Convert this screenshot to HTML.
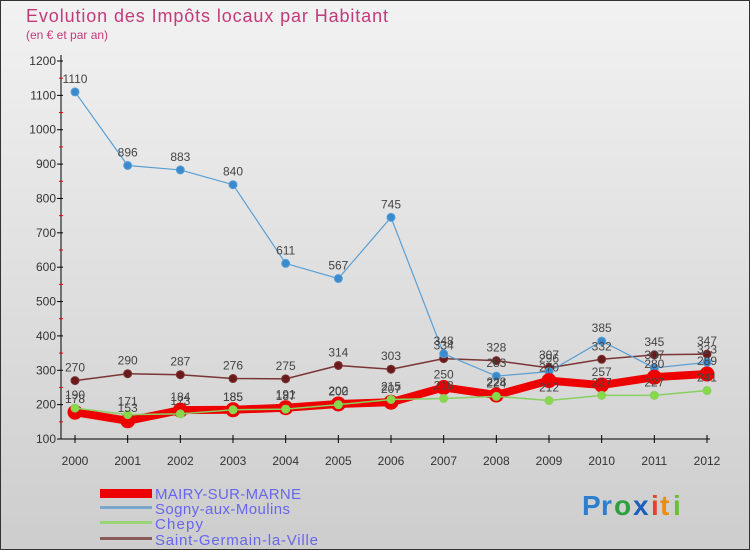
<!DOCTYPE html>
<html><head><meta charset="utf-8"><style>
body{margin:0;width:750px;height:550px;overflow:hidden;font-family:"Liberation Sans",sans-serif}
svg{display:block}
</style></head><body>
<svg id="c" width="750" height="550" xmlns="http://www.w3.org/2000/svg">
<defs><linearGradient id="bg" x1="0" y1="0" x2="0" y2="1"><stop offset="0" stop-color="#f2f2f2"/><stop offset="1" stop-color="#cdcdcd"/></linearGradient></defs>
<rect x="0.5" y="0.5" width="749" height="549" fill="url(#bg)" stroke="#333"/>
<text x="26" y="22" font-size="18" fill="#c23a7a" textLength="362">Evolution des Impôts locaux par Habitant</text>
<text x="26" y="39" font-size="12" fill="#c23a7a">(en € et par an)</text>
<g id="axes"></g><g id="series"></g><g id="labels"></g>
<g>
<rect x="100" y="489" width="52" height="9" fill="#ee0000"/>
<text x="155" y="499" font-size="15" fill="#6666ee" textLength="146">MAIRY-SUR-MARNE</text>
<rect x="100" y="506" width="52" height="3" fill="#7aa6cc"/>
<text x="155" y="514" font-size="15" fill="#6666ee" textLength="135">Sogny-aux-Moulins</text>
<rect x="100" y="521" width="52" height="3" fill="#99d477"/>
<text x="155" y="529" font-size="15" fill="#6666ee" textLength="48">Chepy</text>
<rect x="100" y="537" width="52" height="3" fill="#8a5a5a"/>
<text x="155" y="545" font-size="15" fill="#6666ee" textLength="163">Saint-Germain-la-Ville</text>
</g>
<g font-size="28" font-weight="bold">
<text x="582" y="515" fill="#2a7fd0">P</text><text x="601" y="515" fill="#2a7fd0">r</text><text x="614" y="515" fill="#2fa040">o</text><text x="633" y="515" fill="#1b5fbf">x</text><text x="651" y="515" fill="#e8402a">i</text><text x="660" y="515" fill="#f08a10">t</text><text x="673" y="515" fill="#6abf30">i</text>
</g>
</svg>
<script>
const years=[2000,2001,2002,2003,2004,2005,2006,2007,2008,2009,2010,2011,2012];
const yTicks=[100,200,300,400,500,600,700,800,900,1000,1100,1200];
const mairy=[178,153,184,185,191,202,207,250,228,270,257,280,289];
const sogny=[1110,896,883,840,611,567,745,348,283,296,385,307,323];
const chepy=[190,171,173,185,187,200,215,218,224,212,227,227,241];
const stgermain=[270,290,287,276,275,314,303,334,328,307,332,345,347];
const NS="http://www.w3.org/2000/svg";
const X=i=>75+i*(707-75)/(years.length-1);
const Y=v=>439-(v-100)*(378/1100);
function mk(t,a,p){const e=document.createElementNS(NS,t);for(const k in a)e.setAttribute(k,a[k]);p.appendChild(e);return e;}
const ax=document.getElementById('axes'),sg=document.getElementById('series'),lg=document.getElementById('labels');
let e=mk('line',{x1:61,y1:55,x2:61,y2:439,stroke:'#000'},ax);

e=mk('line',{x1:61,y1:439,x2:710,y2:439,stroke:'#000'},ax);

yTicks.forEach((v,i)=>{mk('line',{x1:57,y1:Y(v),x2:63,y2:Y(v),stroke:'#000'},ax);
 if(i<yTicks.length-1)mk('line',{x1:59,y1:Y(v+50),x2:63,y2:Y(v+50),stroke:'#e00'},ax);
 const t=mk('text',{x:56,y:Y(v)+4,'font-size':12,'text-anchor':'end',fill:'#333'},ax);t.textContent=v;
 });
years.forEach((y,i)=>{mk('line',{x1:X(i),y1:435,x2:X(i),y2:443,stroke:'#000'},ax);
 const t=mk('text',{x:X(i),y:465,'font-size':12,'text-anchor':'middle',fill:'#333'},ax);t.textContent=y;
 });
function series(d,col,w,r,fill,name){
 const g=mk('g',{},sg);
 const pl=mk('polyline',{points:d.map((v,i)=>X(i)+','+Y(v)).join(' '),fill:'none',stroke:col,'stroke-width':w,'stroke-linejoin':'round'},g);
 
 d.forEach((v,i)=>{const c=mk('circle',{cx:X(i),cy:Y(v),r:r,fill:fill,stroke:col,'stroke-width':1},g);
  
  const t=mk('text',{x:X(i),y:Y(v)-9,'font-size':12,'text-anchor':'middle',fill:'#444'},lg);t.textContent=v;
  });
}
series(stgermain,'#7a3535',1.5,4,'#6a1a1a','saint-germain');
series(sogny,'#5a9fd4',1.2,4,'#3a8ad0','sogny');
series(mairy,'#ee0000',8,7,'#ee0000','mairy');
series(chepy,'#88d060',1.5,4,'#88d848','chepy');
</script>
</body></html>
